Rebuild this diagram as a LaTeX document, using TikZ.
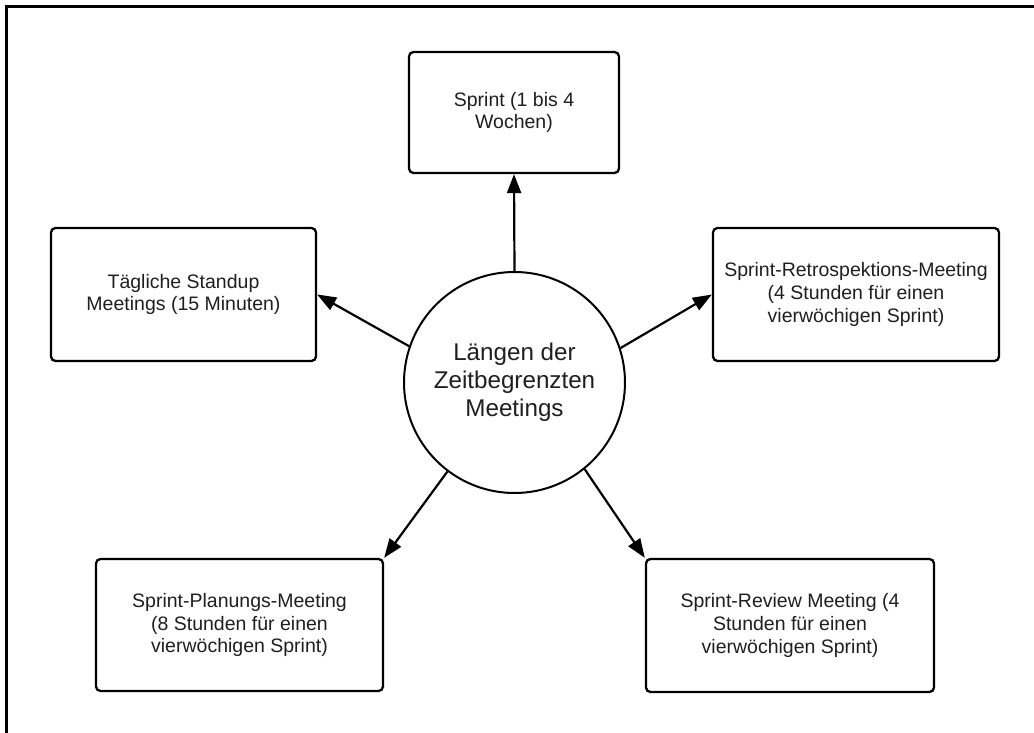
\documentclass[tikz,border=0pt]{standalone}
\usepackage{fontspec}
\setmainfont{Liberation Sans}
\usetikzlibrary{arrows.meta}
\begin{document}
\begin{tikzpicture}[x=1pt,y=-1pt,
  boxnode/.style={draw=black, line width=2.3pt, rounded corners=4.5pt, rectangle,
    align=center, text=black!88, inner sep=0pt,
    font=\fontsize{19.5}{22.8}\selectfont},
  hubnode/.style={draw=black, line width=2pt, circle, minimum size=221pt,
    align=center, text=black!88, inner sep=0pt,
    font=\fontsize{24.2}{28}\selectfont},
  arr/.style={draw=black, line width=2.2pt, -{Triangle[length=19pt,width=14pt]}}]
\useasboundingbox (0,0) rectangle (1034,733);
\fill[white] (0,0) rectangle (1034,733);
% outer frame (cropped)
\draw[line width=3pt, black] (6,733) -- (6,6.5) -- (1034,6.5);

\node[hubnode] (c) at (514.5,382.5) {Längen der\\Zeitbegrenzten\\Meetings};

\node[boxnode, minimum width=210pt, minimum height=121pt] (sprint) at (514,112.5)
  {Sprint (1 bis 4\\Wochen)};
\node[boxnode, minimum width=265pt, minimum height=133pt] (std) at (183.5,294.5)
  {Tägliche Standup\\Meetings (15 Minuten)};
\node[boxnode, minimum width=286pt, minimum height=133pt] (retro) at (856,294.5)
  {Sprint-Retrospektions-Meeting\\(4 Stunden für einen\\vierwöchigen Sprint)};
\node[boxnode, minimum width=287pt, minimum height=132pt] (plan) at (239.5,625)
  {Sprint-Planungs-Meeting\\(8 Stunden für einen\\vierwöchigen Sprint)};
\node[boxnode, minimum width=288pt, minimum height=133pt] (review) at (790,625.5)
  {Sprint-Review Meeting (4\\Stunden für einen\\vierwöchigen Sprint)};

\draw[arr] (c.north) -- (sprint.south);
\draw[arr] (c.161.6) -- (std.east);
\draw[arr] (c.18.6) -- (retro.west);
\draw[arr] (c.233.7) -- (plan.north east);
\draw[arr] (c.309.5) -- (review.north west);
\end{tikzpicture}
\end{document}
